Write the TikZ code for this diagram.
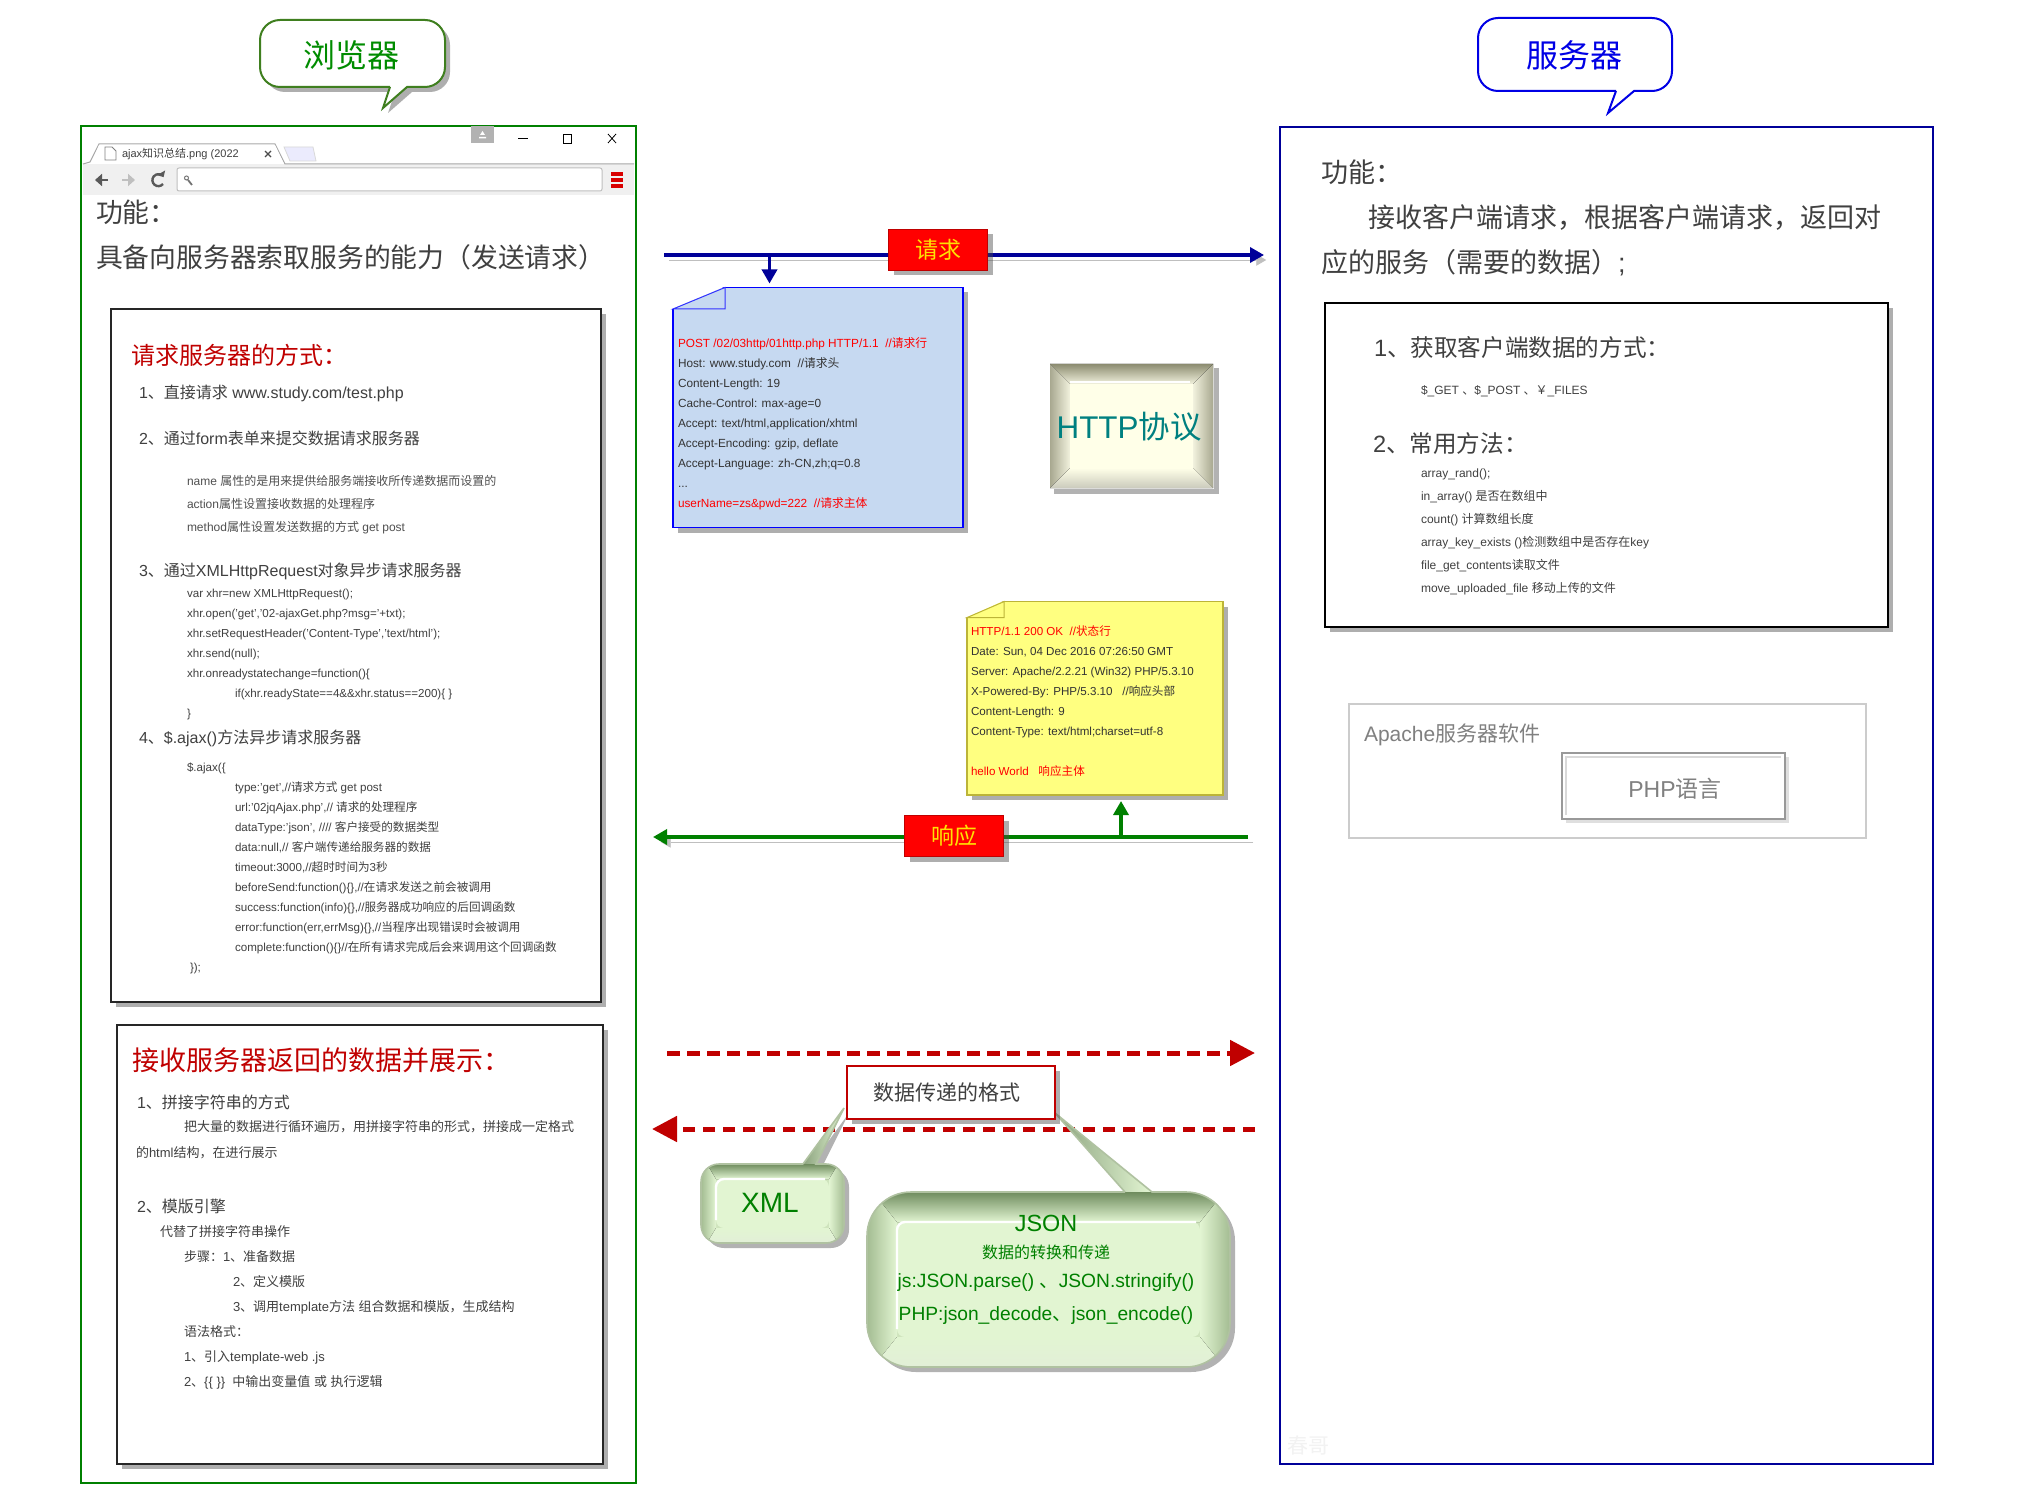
\documentclass[tikz,border=0pt]{standalone}
\usepackage{fontspec}
\setmainfont{Liberation Sans}
\newfontfamily\cjk{Noto Sans CJK SC}
\usetikzlibrary{arrows.meta,shadows}

% Chinese runs switch to the CJK font on their own
\XeTeXinterchartokenstate=1
\newXeTeXintercharclass\cjkclass
\newcount\cjkcount
\cjkcount="3000 \loop \XeTeXcharclass\cjkcount=\cjkclass \advance\cjkcount by 1 \ifnum\cjkcount<"A000 \repeat
\cjkcount="FF00 \loop \XeTeXcharclass\cjkcount=\cjkclass \advance\cjkcount by 1 \ifnum\cjkcount<"FFF0 \repeat
\XeTeXinterchartoks 0 \cjkclass={\cjk}
\XeTeXinterchartoks 4095 \cjkclass={\cjk}
\XeTeXinterchartoks \cjkclass 0={\rmfamily}
\XeTeXinterchartoks \cjkclass 4095={\rmfamily}

\definecolor{browsergreen}{HTML}{008000}
\definecolor{calloutgreen}{HTML}{3F7F1F}
\definecolor{servernavy}{HTML}{000099}
\definecolor{titlered}{HTML}{C00000}
\definecolor{bodygray}{HTML}{404040}
\definecolor{notegray}{HTML}{505050}
\definecolor{noteblue}{HTML}{C6D9F1}
\definecolor{noteyellow}{HTML}{FFFF80}
\definecolor{glassdark}{HTML}{6F8C5E}
\definecolor{glassmid}{HTML}{CFE4BD}
\definecolor{glassin}{HTML}{E2F5D2}
\definecolor{beveldark}{HTML}{8C8C70}
\definecolor{bevelside}{HTML}{A8A890}
\definecolor{bevellight}{HTML}{F2F2DE}
\definecolor{bevelfill}{HTML}{FFFFE8}

\tikzset{
  fsize/.style={font=\fontsize{#1}{20}\selectfont},
  boxshadow/.style={drop shadow={shadow xshift=2.5pt,shadow yshift=-2.5pt,opacity=0.45,fill=black!70}},
  lineshadow/.style={preaction={draw=black!25,transform canvas={xshift=2.5pt,yshift=-2.5pt}}},
  textblock/.style={anchor=north west,inner sep=0pt,outer sep=0pt,align=left,text=bodygray},
  textline/.style={anchor=west,inner sep=0pt,outer sep=0pt,text=bodygray},
  headbox/.style={fill=red,draw=titlered,inner sep=0pt,outer sep=0pt,minimum width=49.5pt,minimum height=20.5pt,text=yellow!85!orange,font=\fontsize{11.5}{14}\selectfont,boxshadow},
  notebox/.style={anchor=north west,inner sep=0pt,outer sep=0pt,boxshadow},
  reqline/.style={servernavy,line width=1.7pt,-{Triangle[length=7pt,width=7.5pt]},lineshadow},
  respline/.style={green!50!black,line width=1.7pt,-{Triangle[length=7pt,width=7.5pt]},lineshadow},
  dataline/.style={titlered,line width=2.5pt,dash pattern=on 6.25pt off 3.75pt,-{Triangle[length=12.5pt,width=12.5pt]}},
  cardbox/.style={draw=black!85,line width=1.2pt,fill=white,boxshadow}
}

% glass box: left, top, right, bottom, corner, tail start, tail tip, tail end, rim
\newcommand{\glassbox}[9]{
  \def\glasspath{(#6) -- (#7) -- (#8) [rounded corners=#5] -- (#3,#2) -- (#3,#4) -- (#1,#4) -- (#1,#2) -- (#6)}
  \fill[black!50,opacity=0.6,transform canvas={xshift=2.5pt,yshift=-2.5pt}] \glasspath;
  \fill[glassmid] \glasspath;
  \begin{scope}
    \clip \glasspath;
    \fill[left color=glassdark!80,right color=glassin] (#6) -- (#7) -- (#8) -- cycle;
    \fill[left color=glassdark!45!glassmid,right color=glassin] (#1,#2) rectangle (#1+#9,#4);
    \fill[left color=glassin,right color=glassdark!45!glassmid] (#3-#9,#2) rectangle (#3,#4);
    \fill[top color=glassdark,bottom color=glassin] (#1+6,#2) -- (#3-6,#2) -- (#3-#9,#2+#9) -- (#1+#9,#2+#9) -- cycle;
    \fill[top color=glassin,bottom color=glassmid!60!white] (#1+#9,#4-#9) -- (#3-#9,#4-#9) -- (#3-6,#4) -- (#1+6,#4) -- cycle;
  \end{scope}
  \draw[glassmid!85!black,line width=0.8pt] \glasspath;
  \fill[glassin,rounded corners=4pt] (#1+#9,#2+#9) rectangle (#3-#9,#4-#9);
  \draw[white,line width=1.2pt,rounded corners=4pt] (#1+#9,#4-#9-8) -- (#1+#9,#2+#9) -- (#3-#9-4,#2+#9);
}

\begin{document}
\begin{tikzpicture}[x=0.5pt,y=-0.5pt]

  \useasboundingbox (0,0) rectangle (2022,1492);
  \fill[white] (0,0) rectangle (2022,1492);

  % browser callout
  \draw[calloutgreen,line width=1pt,fill=white,boxshadow] (390,87) -- (383,108) -- (407,87)
    [rounded corners=10pt] -- (445,87) -- (445,20) -- (260,20) -- (260,87) -- (390,87);
  \node[text=green!55!black,font=\fontsize{16}{19}\selectfont] (browsertitle) at (351,55) {浏览器};

  % server callout
  \draw[blue!90!black,line width=1pt,fill=white] (1616,91) -- (1608,113) -- (1634,91)
    [rounded corners=10pt] -- (1672,91) -- (1672,18) -- (1478,18) -- (1478,91) -- (1616,91);
  \node[text=blue!90!black,font=\fontsize{16}{19}\selectfont] (servertitle) at (1574,55) {服务器};

  % browser frame
  \draw[browsergreen,line width=1pt] (81,126) rectangle (636,1483);

  % browser window chrome
  \fill[black!6] (83,164) rectangle (634,195);
  \draw[black!35,line width=0.5pt] (83,164) -- (90,162) -- (99,144) -- (275,144) -- (285,164) -- (634,164);
  \fill[white] (91,164) -- (99,145) -- (275,145) -- (284,164) -- cycle;
  \fill[black!10!blue!8!white,draw=black!15] (284,147) -- (313,147) -- (316,161) -- (290,161) -- cycle;
  \draw[black!50,line width=0.4pt,fill=white] (105,147) -- (112,147) -- (116,151) -- (116,160) -- (105,160) -- cycle;
  \node[textline,fsize=5.5] (tablabel) at (122,154) {ajax知识总结.png (2022};
  \draw[black!70,line width=0.7pt] (265,151) -- (271,157) (271,151) -- (265,157);
  \fill[black!30] (471,126) rectangle (494,143);
  \fill[white] (480,135) -- (485,135) -- (482.5,131) -- cycle (479,137) rectangle (486,138.5);
  \draw[black,line width=0.4pt] (518,138) -- (528,138);
  \draw[black,line width=0.4pt] (563,134) rectangle (571,143);
  \draw[black,line width=0.4pt] (608,134) -- (616,143) (616,134) -- (608,143);
  \draw[black!25,line width=0.5pt,fill=white,rounded corners=1pt] (177,168) rectangle (602,191);
  \draw[black!65,line width=1.2pt,-{Triangle[length=3.5pt,width=6pt]}] (108,180) -- (95,180);
  \draw[black!25,line width=1.2pt,-{Triangle[length=3.5pt,width=6pt]}] (122,180) -- (135,180);
  \draw[black!65,line width=1.2pt,-{Triangle[length=2.5pt,width=4.5pt]}] (163,184) arc (40:330:6);
  \draw[black!55,line width=0.5pt] (186.5,178) circle (2);
  \draw[black!55,line width=0.9pt] (188,180) -- (192,185);
  \foreach \y in {174,180,186}
    \fill[red!85!black] (611,\y-1.7) rectangle (623,\y+1.7);

  % browser function text
  \node[textline,fsize=13.4] (browserfunc) at (96,212) {功能：};
  \node[textline,fsize=13.4] (browserdesc) at (96,257) {具备向服务器索取服务的能力（发送请求）};

  % request card
  \draw[cardbox] (111,309) rectangle (601,1002);
  \node[textline,text=titlered,fsize=12] (reqtitle) at (131,355) {请求服务器的方式：};
  \node[textline,fsize=8] (reqone) at (139,393) {1、直接请求 www.study.com/test.php};
  \node[textline,fsize=8] (reqtwo) at (139,438) {2、通过form表单来提交数据请求服务器};
  \node[textblock,text=notegray,font=\fontsize{6}{11.5}\selectfont] (formnotes) at (187,475) {name 属性的是用来提供给服务端接收所传递数据而设置的\\action属性设置接收数据的处理程序\\method属性设置发送数据的方式 get post};
  \node[textline,fsize=8] (reqthree) at (139,571) {3、通过XMLHttpRequest对象异步请求服务器};
  \node[textblock,font=\fontsize{5.8}{10}\selectfont] (xhrcode) at (187,589.5) {var xhr=new XMLHttpRequest();\\xhr.open('get','02-ajaxGet.php?msg='+txt);\\xhr.setRequestHeader('Content-Type','text/html');\\xhr.send(null);\\xhr.onreadystatechange=function()\{\\\hspace*{24pt}if(xhr.readyState==4\&\&xhr.status==200)\{ \}\\\}};
  \node[textline,fsize=8] (reqfour) at (139,738) {4、\$.ajax()方法异步请求服务器};
  \node[textblock,font=\fontsize{5.8}{10}\selectfont] (ajaxcode) at (187,762.5) {\$.ajax(\{\\\hspace*{24pt}type:'get',//请求方式 get post\\\hspace*{24pt}url:'02jqAjax.php',// 请求的处理程序\\\hspace*{24pt}dataType:'json', //// 客户接受的数据类型\\\hspace*{24pt}data:null,// 客户端传递给服务器的数据\\\hspace*{24pt}timeout:3000,//超时时间为3秒\\\hspace*{24pt}beforeSend:function()\{\},//在请求发送之前会被调用\\\hspace*{24pt}success:function(info)\{\},//服务器成功响应的后回调函数\\\hspace*{24pt}error:function(err,errMsg)\{\},//当程序出现错误时会被调用\\\hspace*{24pt}complete:function()\{\}//在所有请求完成后会来调用这个回调函数\\\hspace*{1.5pt}\});};

  % receive card
  \draw[cardbox] (117,1025) rectangle (603,1464);
  \node[textline,text=titlered,fsize=13.5] (recvtitle) at (132,1060) {接收服务器返回的数据并展示：};
  \node[textline,fsize=8] (recvone) at (137,1102) {1、拼接字符串的方式};
  \node[textblock,font=\fontsize{6.5}{13}\selectfont] (recvonetext) at (136,1120) {\hspace*{24pt}把大量的数据进行循环遍历，用拼接字符串的形式，拼接成一定格式\\的html结构，在进行展示};
  \node[textline,fsize=8] (recvtwo) at (137,1206) {2、模版引擎};
  \node[textblock,font=\fontsize{6.5}{12.5}\selectfont] (recvtwotext) at (160,1225) {代替了拼接字符串操作\\\hspace*{12pt}步骤：1、准备数据\\\hspace*{36.5pt}2、定义模版\\\hspace*{36.5pt}3、调用template方法 组合数据和模版，生成结构\\\hspace*{12pt}语法格式：\\\hspace*{12pt}1、引入template-web .js\\\hspace*{12pt}2、\{\{ \}\} \ 中输出变量值 或 执行逻辑};

  % request arrow
  \coordinate (reqstart) at (664,255);
  \coordinate (reqend) at (1264,255);
  \draw[reqline] (reqstart) -- (reqend);
  \node[headbox] (reqlabel) at (938,250) {请求};

  % request note
  \node[notebox,fill=noteblue,draw=blue,line width=0.6pt,minimum width=145pt,minimum height=120pt] (reqnote) at (673,287.5) {};
  \fill[white] (672,286.5) -- (725,286.5) -- (672,309) -- cycle;
  \draw[blue!80,line width=0.5pt,fill=noteblue] (673,309) -- (725,287.5) -- (725,309) -- cycle;
  \coordinate (reqdrop) at (769.5,255);
  \draw[servernavy,line width=1.7pt,-{Triangle[length=7pt,width=7.5pt]},shorten >=2pt] (reqdrop) -- (reqdrop |- reqnote.north);
  \node[textblock,text=black!80,font=\fontsize{5.9}{10}\selectfont] (reqnotetext) at (678,337.5) {\textcolor{red}{POST /02/03http/01http.php HTTP/1.1 \ //请求行}\\Host: www.study.com \ //请求头\\Content-Length: 19\\Cache-Control: max-age=0\\Accept: text/html,application/xhtml\\Accept-Encoding: gzip, deflate\\Accept-Language: zh-CN,zh;q=0.8\\...\\\textcolor{red}{userName=zs\&pwd=222 \ //请求主体}};

  % http box
  \draw[black!30,line width=2.5pt] (1216,368) -- (1216,491) -- (1054,491);
  \fill[top color=beveldark,bottom color=bevellight] (1050,364) -- (1213,364) -- (1193,384) -- (1070,384) -- cycle;
  \fill[left color=bevelside,right color=bevellight] (1050,364) -- (1070,384) -- (1070,468) -- (1050,488) -- cycle;
  \fill[left color=bevellight,right color=bevelside] (1213,364) -- (1193,384) -- (1193,468) -- (1213,488) -- cycle;
  \fill[top color=bevelfill,bottom color=bevelside!60!white] (1050,488) -- (1070,468) -- (1193,468) -- (1213,488) -- cycle;
  \node[anchor=north west,inner sep=0pt,outer sep=0pt,fill=bevelfill,minimum width=61.5pt,minimum height=42pt] (httpinner) at (1070,384) {};
  \draw[white,line width=1.2pt] (1070,382) -- (1190,382);
  \node[text=teal,font=\fontsize{15.7}{19}\selectfont] (httplabel) at (1129,427) {HTTP协议};

  % response note
  \node[notebox,fill=noteyellow,draw=yellow!70!black,line width=0.6pt,minimum width=128pt,minimum height=96.7pt] (respnote) at (967,601.6) {};
  \fill[white] (966,600.6) -- (1004,600.6) -- (966,617.6) -- cycle;
  \draw[yellow!70!black,line width=0.5pt,fill=noteyellow] (967,617.6) -- (1004,601.6) -- (1004,617.6) -- cycle;
  \node[textblock,text=black!80,font=\fontsize{5.8}{10}\selectfont] (respnotetext) at (971,625.5) {\textcolor{red}{HTTP/1.1 200 OK \ //状态行}\\Date: Sun, 04 Dec 2016 07:26:50 GMT\\Server: Apache/2.2.21 (Win32) PHP/5.3.10\\X-Powered-By: PHP/5.3.10 \ \ //响应头部\\Content-Length: 9\\Content-Type: text/html;charset=utf-8\\\mbox{}\\\textcolor{red}{hello World \ \ 响应主体}};

  % response arrow
  \coordinate (respstart) at (1248,837);
  \coordinate (respend) at (653,837);
  \draw[respline] (respstart) -- (respend);
  \coordinate (resprise) at (1121,837);
  \draw[green!50!black,line width=1.7pt,-{Triangle[length=7pt,width=7.5pt]},shorten >=3pt] (resprise) -- (resprise |- respnote.south);
  \node[headbox] (resplabel) at (954,836) {响应};

  % data format arrows
  \coordinate (datatopstart) at (667,1053);
  \coordinate (datatopend) at (1255,1053);
  \coordinate (databotstart) at (1255,1129);
  \coordinate (databotend) at (652,1129);
  \draw[dataline] (datatopstart) -- (datatopend);
  \draw[dataline] (databotstart) -- (databotend);

  % xml and json bubbles
  \glassbox{701}{1164}{844}{1243}{9pt}{803,1164}{844,1108}{816,1164}{15}
  \node[text=green!50!black,font=\fontsize{14}{17}\selectfont] (xmllabel) at (770,1203) {XML};
  \glassbox{867}{1192}{1230}{1367}{22pt}{1125,1192}{1055,1113}{1152,1192}{30}
  \node[text=green!50!black,font=\fontsize{11.7}{14}\selectfont] (jsontitle) at (1046,1223) {JSON};
  \node[text=green!50!black,fsize=8] (jsonnote) at (1046,1252) {数据的转换和传递};
  \node[text=green!50!black,fsize=9.6] (jsonjs) at (1046,1283) {js:JSON.parse() 、JSON.stringify()};
  \node[text=green!50!black,fsize=9.6] (jsonphp) at (1046,1316) {PHP:json\_decode、json\_encode()};

  % format label
  \node[draw=titlered,line width=1.2pt,fill=white,inner sep=0pt,minimum width=104pt,minimum height=26.5pt,text=bodygray,font=\fontsize{10.5}{13}\selectfont,boxshadow] (formatbox) at (951,1092.5) {数据传递的格式\hspace*{4pt}};

  % server frame
  \draw[servernavy,line width=1pt] (1280,127) rectangle (1933,1464);
  \node[textline,fsize=13.5] (serverfunc) at (1321,172) {功能：};
  \node[textline,fsize=13.5] (serverdescone) at (1368,217) {接收客户端请求，根据客户端请求，返回对};
  \node[textline,fsize=13.5] (serverdesctwo) at (1321,263) {应的服务（需要的数据）;};
  \node[text=black!5,fsize=10.5] (servermark) at (1308,1446) {春哥};

  % server card
  \draw[cardbox,draw=black] (1325,303) rectangle (1888,627);
  \node[textline,fsize=11.8] (srvone) at (1374,347) {1、获取客户端数据的方式：};
  \node[textline,fsize=6] (srvvars) at (1421,391) {\$\_GET 、\$\_POST 、￥\_FILES};
  \node[textline,fsize=11.8] (srvtwo) at (1373,444) {2、常用方法：};
  \node[textblock,font=\fontsize{6}{11.5}\selectfont] (srvfuncs) at (1421,469) {array\_rand();\\in\_array() 是否在数组中\\count() 计算数组长度\\array\_key\_exists ()检测数组中是否存在key\\file\_get\_contents读取文件\\move\_uploaded\_file 移动上传的文件};

  % apache box
  \draw[black!20,line width=1pt] (1349,704) rectangle (1866,838);
  \node[textline,text=black!50,fsize=10.5] (apachelabel) at (1364,735) {Apache服务器软件};
  \draw[black!40,line width=1.2pt,fill=white,drop shadow={shadow xshift=2pt,shadow yshift=-2pt,opacity=0.25}] (1562,753) rectangle (1785,819);
  \draw[black!15,line width=1.2pt] (1566,815) -- (1566,757) -- (1781,757);
  \node[text=black!50,fsize=11.5] (phplabel) at (1675,789) {PHP语言};

\end{tikzpicture}
\end{document}
